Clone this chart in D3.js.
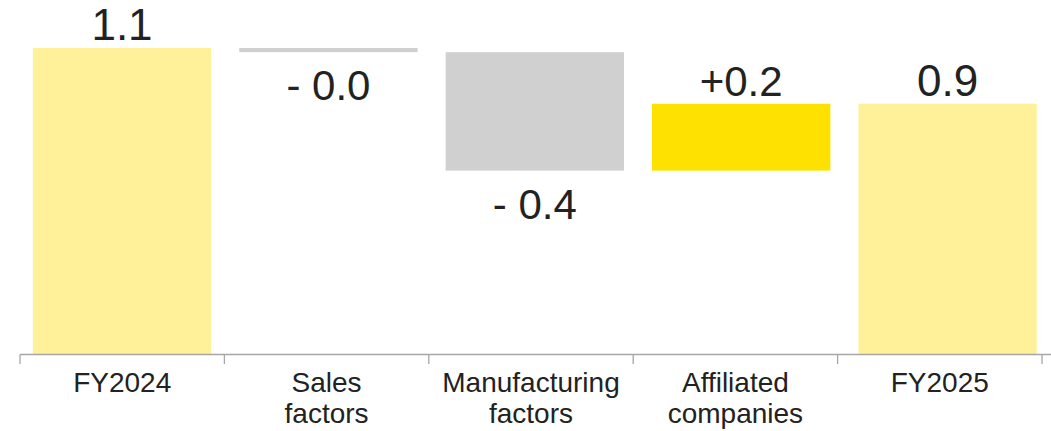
<!DOCTYPE html>
<html>
<head>
<meta charset="utf-8">
<script src="https://cdn.jsdelivr.net/npm/d3@7"></script>
<style>
  html, body { margin: 0; padding: 0; background: #fff; }
  svg { display: block; font-family: "Liberation Sans", Arial, sans-serif; }
</style>
</head>
<body>
<svg id="chart" width="1051" height="431"></svg>
<script>
// ---- data ----
const categories = ["FY2024", "Sales factors", "Manufacturing factors", "Affiliated companies", "FY2025"];
const categoryLines = [["FY2024"], ["Sales", "factors"], ["Manufacturing", "factors"], ["Affiliated", "companies"], ["FY2025"]];
const values = [1.10, -0.015, -0.425, 0.24, 0.90];
const kinds = ["total", "delta", "delta", "delta", "total"];
const valueLabels = ["1.1", "- 0.0", "- 0.4", "+0.2", "0.9"];

// ---- layout ----
const svg = d3.select("#chart");
const baseY = 354.5;
// bar placement
const x = d3.scaleBand().domain(categories).range([18.8, 1050.8]).paddingInner(0.136).paddingOuter(0.068);
// axis (category segments with boundary ticks)
const xa = d3.scaleBand().domain(categories).range([20, 1042]).padding(0);
const y = d3.scaleLinear().domain([0, 1.1]).range([baseY, 48]);

// compute waterfall spans
let running = 0;
const bars = categories.map((c, i) => {
  let lo, hi;
  if (kinds[i] === "total") { lo = 0; hi = values[i]; running = values[i]; }
  else { const s = running; running = running + values[i]; lo = Math.min(s, running); hi = Math.max(s, running); }
  return { c, i, lo, hi, v: values[i], kind: kinds[i] };
});

function color(d) {
  if (d.kind === "total") return "#FFF199";
  return d.v < 0 ? "#D0D0D0" : "#FFE100";
}

svg.selectAll("rect.bar").data(bars).join("rect")
  .attr("class", "bar")
  .attr("x", d => x(d.c))
  .attr("width", x.bandwidth())
  .attr("y", d => y(d.hi))
  .attr("height", d => y(d.lo) - y(d.hi))
  .attr("fill", color);

// value labels
svg.selectAll("text.val").data(bars).join("text")
  .attr("class", "val")
  .attr("x", d => x(d.c) + x.bandwidth() / 2)
  .attr("y", d => d.v < 0 ? y(d.lo) + 48 : y(d.hi) - 8)
  .attr("text-anchor", "middle")
  .attr("font-size", d => d.kind === "total" ? 44 : 42)
  .attr("fill", "#222")
  .text(d => valueLabels[d.i]);

// axis
const [r0, r1] = xa.range();
const step = xa.step();
const axisG = svg.append("g");
axisG.append("line")
  .attr("x1", r0).attr("x2", 1051)
  .attr("y1", baseY).attr("y2", baseY)
  .attr("stroke", "#A6A6A6").attr("stroke-width", 1.3);
const boundaries = d3.range(categories.length + 1).map(i => r0 + i * step);
axisG.selectAll("line.tick").data(boundaries).join("line")
  .attr("class", "tick")
  .attr("x1", d => d).attr("x2", d => d)
  .attr("y1", baseY).attr("y2", baseY + 9.5)
  .attr("stroke", "#A6A6A6").attr("stroke-width", 1.3);

const lab = axisG.selectAll("text.cat").data(categories).join("text")
  .attr("class", "cat")
  .attr("x", d => xa(d) + xa.bandwidth() / 2)
  .attr("y", 391.5)
  .attr("text-anchor", "middle")
  .attr("font-size", 28)
  .attr("fill", "#222");
lab.each(function(d, i) {
  const t = d3.select(this);
  categoryLines[i].forEach((ln, j) => {
    t.append("tspan").attr("x", xa(d) + xa.bandwidth() / 2).attr("dy", j === 0 ? 0 : 31.6).text(ln);
  });
});
</script>
</body>
</html>
